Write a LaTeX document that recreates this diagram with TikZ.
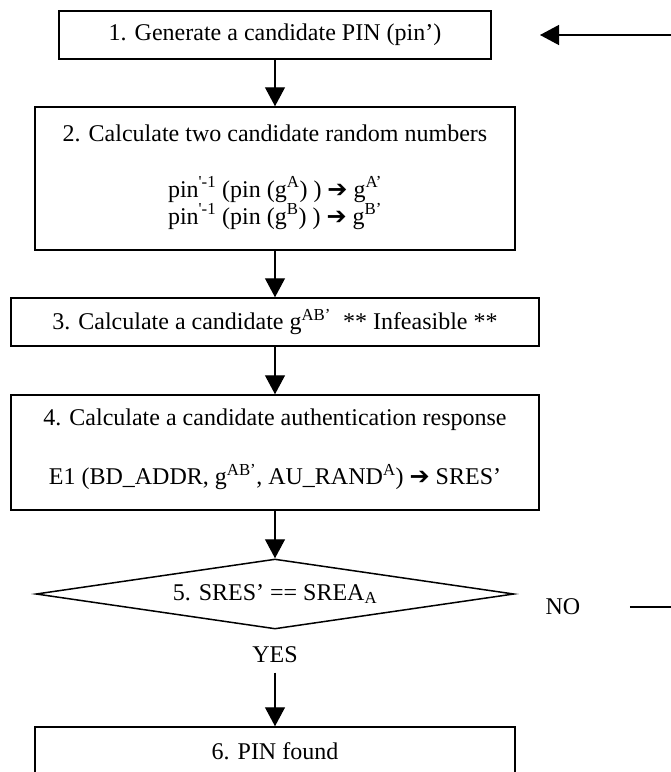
\documentclass[tikz,border=0pt]{standalone}
\usepackage{fontspec}
\setmainfont{Liberation Serif}
\newfontfamily\arrowfont{DejaVu Sans}
\usetikzlibrary{arrows.meta, positioning, shapes.geometric}

\newcommand{\thenarrow}{{\arrowfont ➔}}

\begin{document}
\begin{tikzpicture}[x=1pt, y=-1pt,
    every node/.style={font=\fontsize{24}{27}\selectfont},
    box/.style={draw, line width=1.5pt, inner sep=0pt},
    flow/.style={line width=1.3pt, -{Triangle[length=19pt, width=20pt]}}]
    \useasboundingbox (0,0) rectangle (671,772);

    % Steps
    \node[box, line width=2pt, minimum width=432pt, minimum height=48pt] (gen) at (275,35) {1. Generate a candidate PIN (pin’)};
    \node[box, minimum width=480pt, minimum height=143pt] (calc) at (275,178.5) {};
    \node (calctitle) at (275,133) {2. Calculate two candidate random numbers};
    \node[align=center] (calcpins) at (275,203) {pin\textsuperscript{\textquotesingle-1} (pin (g\textsuperscript{A}) ) \thenarrow{} g\textsuperscript{A’}\\pin\textsuperscript{\textquotesingle-1} (pin (g\textsuperscript{B}) ) \thenarrow{} g\textsuperscript{B’}};
    \node[box, minimum width=528pt, minimum height=48pt] (cand) at (275,322) {3. Calculate a candidate g\textsuperscript{AB’}\ \ ** Infeasible **};
    \node[box, minimum width=528pt, minimum height=115pt] (auth) at (275,452.5) {};
    \node (authtitle) at (275,420) {4. Calculate a candidate authentication response};
    \node (authcalc) at (275,477) {E1 (BD\_ADDR, g\textsuperscript{AB’}, AU\_RAND\textsuperscript{A}) \thenarrow{} SRES’};
    \node[diamond, draw, line width=1.5pt, aspect=6.8, inner sep=0pt, minimum width=478pt, minimum height=70pt] (check) at (275,594) {5. SRES’ == SREA\textsubscript{A}};
    \node (no) at (563,607) {NO};
    \node (yes) at (275,655) {YES};
    \node[box, minimum width=480pt, minimum height=48pt] (found) at (275,751) {6. PIN found};

    % Flow
    \foreach \from/\to in {gen/calc, calc/cand, cand/auth, auth/check}
        \draw[flow] (\from) -- (\to);
    \draw[flow, shorten <=6pt] (yes) -- (found);

    % Back to step 1
    \coordinate (loopx) at (700,0);
    \draw[flow, shorten >=48pt] ([xshift=46pt]no.east) -- (no -| loopx) |- (gen);
\end{tikzpicture}
\end{document}
